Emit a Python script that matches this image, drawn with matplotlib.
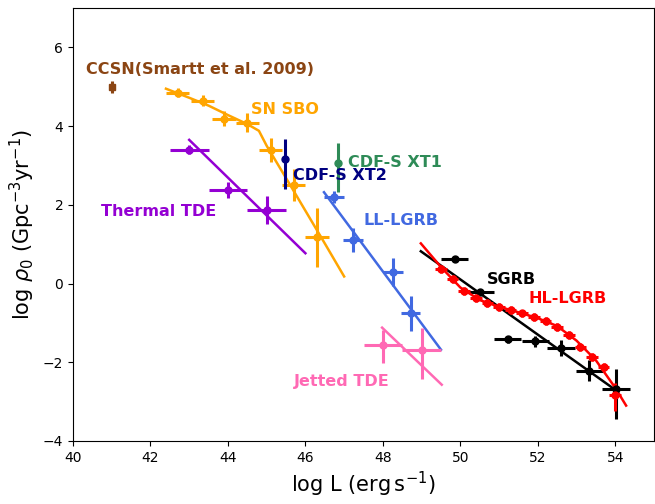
import matplotlib
matplotlib.use("Agg")
import matplotlib.pyplot as plt
import numpy as np

# ---- data ----
ccsn_x = [41.0]; ccsn_y = [5.0]; ccsn_yerr = [0.15]

sbo_x = [42.7, 43.35, 43.9, 44.5, 45.1, 45.7, 46.3]
sbo_y = [4.85, 4.65, 4.19, 4.09, 3.40, 2.50, 1.18]
sbo_xerr = [0.3, 0.3, 0.3, 0.3, 0.3, 0.3, 0.3]
sbo_yerr = [0.12, 0.15, 0.2, 0.25, 0.3, 0.4, 0.75]
sbo_line_x = [42.4, 43.0, 43.5, 44.0, 44.5, 44.8, 45.0, 45.5, 46.0, 46.5, 47.0]
sbo_line_y = [4.95, 4.72, 4.52, 4.28, 4.05, 3.88, 3.5, 2.68, 1.85, 1.02, 0.18]

ttde_x = [43.0, 44.0, 45.0]
ttde_y = [3.40, 2.37, 1.87]
ttde_xerr = [0.5, 0.5, 0.5]
ttde_yerr = [0.12, 0.2, 0.35]
ttde_line_x = [43.0, 46.0]
ttde_line_y = [3.65, 0.77]

xt2_x = [45.48]; xt2_y = [3.17]; xt2_yerr_lo = [0.76]; xt2_yerr_hi = [0.51]
xt1_x = [46.84]; xt1_y = [3.07]; xt1_yerr_lo = [0.74]; xt1_yerr_hi = [0.51]

ll_x = [46.74, 47.23, 48.26, 48.72]
ll_y = [2.19, 1.10, 0.29, -0.76]
ll_xerr = [0.25, 0.25, 0.25, 0.25]
ll_yerr = [0.15, 0.3, 0.35, 0.45]
ll_line_x = [46.48, 49.5]
ll_line_y = [2.32, -1.68]

jtde_x = [48.0, 49.0]
jtde_y = [-1.55, -1.68]
jtde_xerr = [0.5, 0.5]
jtde_yerr_lo = [0.46, 0.74]
jtde_yerr_hi = [0.36, 0.54]
jtde_line_x = [47.98, 49.52]
jtde_line_y = [-1.12, -2.57]

sgrb_x = [49.85, 50.52, 51.22, 51.94, 52.6, 53.33, 54.02]
sgrb_y = [0.62, -0.22, -1.42, -1.47, -1.63, -2.21, -2.67]
sgrb_xerr = [0.35, 0.35, 0.35, 0.35, 0.35, 0.35, 0.35]
sgrb_yerr_lo = [0.06, 0.08, 0.1, 0.15, 0.2, 0.27, 0.77]
sgrb_yerr_hi = [0.06, 0.08, 0.1, 0.15, 0.2, 0.27, 0.5]
sgrb_line_x = [48.98, 54.0]
sgrb_line_y = [0.82, -2.7]

hl_x = [49.5, 49.8, 50.1, 50.4, 50.7, 51.0, 51.3, 51.6, 51.9, 52.2,
        52.5, 52.8, 53.1, 53.4, 53.7, 54.0]
hl_y = [0.38, 0.11, -0.19, -0.37, -0.49, -0.59, -0.68, -0.76, -0.85, -0.96,
        -1.11, -1.30, -1.61, -1.86, -2.12, -2.82]
hl_yerr_lo = [0.1] * 15 + [0.43]
hl_yerr_hi = [0.1] * 15 + [0.3]
hl_xerr = [0.15] * 16
hl_line_x = [48.98, 49.5, 50.0, 50.5, 51.0, 51.5, 52.0, 52.5, 53.0, 53.5, 54.0, 54.28]
hl_line_y = [1.02, 0.42, -0.1, -0.42, -0.59, -0.73, -0.88, -1.08, -1.45, -1.95, -2.65, -3.1]

# ---- plot ----
fig = plt.figure(figsize=(6.55, 5.04), dpi=100)
ax = fig.add_axes([73/655, 63/504, 581/655, 433/504])

ekw = dict(fmt='o', ms=5, elinewidth=2.2, capsize=0)

ax.errorbar(ccsn_x, ccsn_y, yerr=ccsn_yerr, fmt='s', ms=4, color='#8B4513', elinewidth=2.2, capsize=0)

ax.plot(sbo_line_x, sbo_line_y, color='orange', lw=1.8)
ax.errorbar(sbo_x, sbo_y, xerr=sbo_xerr, yerr=sbo_yerr, color='orange', **ekw)

ax.plot(ttde_line_x, ttde_line_y, color='#9400D3', lw=1.8)
ax.errorbar(ttde_x, ttde_y, xerr=ttde_xerr, yerr=ttde_yerr, color='#9400D3', **ekw)

ax.errorbar(xt2_x, xt2_y, yerr=[xt2_yerr_lo, xt2_yerr_hi], color='#000080', **ekw)
ax.errorbar(xt1_x, xt1_y, yerr=[xt1_yerr_lo, xt1_yerr_hi], color='#2E8B57', **ekw)

ax.plot(ll_line_x, ll_line_y, color='#4169E1', lw=1.8)
ax.errorbar(ll_x, ll_y, xerr=ll_xerr, yerr=ll_yerr, color='#4169E1', **ekw)

ax.plot(jtde_line_x, jtde_line_y, color='#FF69B4', lw=1.8)
ax.errorbar(jtde_x, jtde_y, xerr=jtde_xerr, yerr=[jtde_yerr_lo, jtde_yerr_hi], color='#FF69B4', **ekw)

ax.plot(sgrb_line_x, sgrb_line_y, color='black', lw=1.8)
ax.errorbar(sgrb_x, sgrb_y, xerr=sgrb_xerr, yerr=[sgrb_yerr_lo, sgrb_yerr_hi], color='black', **ekw)

ax.plot(hl_line_x, hl_line_y, color='red', lw=1.8)
ax.errorbar(hl_x, hl_y, xerr=hl_xerr, yerr=[hl_yerr_lo, hl_yerr_hi], color='red', **ekw)

tkw = dict(fontsize=11.5, fontweight='bold', va='center', ha='left')
ax.text(40.33, 5.44, 'CCSN(Smartt et al. 2009)', color='#8B4513', **tkw)
ax.text(44.6, 4.42, 'SN SBO', color='orange', **tkw)
ax.text(40.72, 1.84, 'Thermal TDE', color='#9400D3', **tkw)
ax.text(45.69, 2.74, 'CDF-S XT2', color='#000080', **tkw)
ax.text(47.10, 3.07, 'CDF-S XT1', color='#2E8B57', **tkw)
ax.text(47.49, 1.61, 'LL-LGRB', color='#4169E1', **tkw)
ax.text(45.69, -2.48, 'Jetted TDE', color='#FF69B4', **tkw)
ax.text(50.68, 0.10, 'SGRB', color='black', **tkw)
ax.text(51.76, -0.38, 'HL-LGRB', color='red', **tkw)

ax.set_xlim(40, 55)
ax.set_ylim(-4, 7)
ax.set_xticks([40, 42, 44, 46, 48, 50, 52, 54])
ax.set_yticks([-4, -2, 0, 2, 4, 6])
ax.tick_params(labelsize=10)
ax.set_xlabel(r'log L (erg$\,$s$^{-1}$)', fontsize=15)
ax.set_ylabel(r'log $\rho_0$ (Gpc$^{-3}$yr$^{-1}$)', fontsize=15)

fig.savefig('out.png', dpi=100)
